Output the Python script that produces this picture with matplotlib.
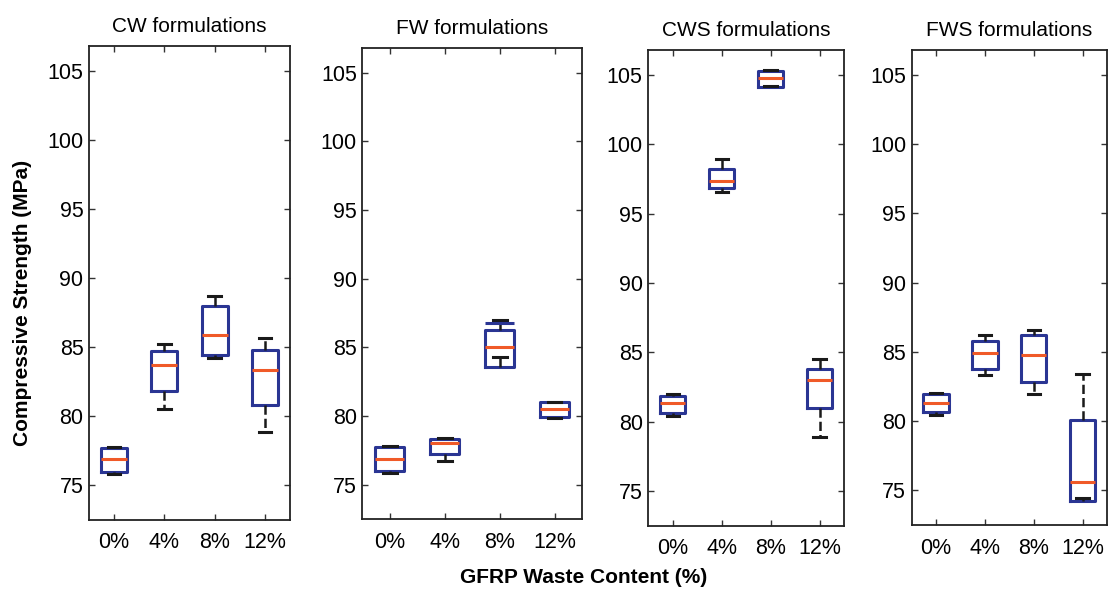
import matplotlib.pyplot as plt

plt.rcParams['font.family'] = ['Liberation Sans', 'DejaVu Sans']

groups = ['0%', '4%', '8%', '12%']
titles = ['CW formulations', 'FW formulations', 'CWS formulations', 'FWS formulations']

# box statistics, one row per waste content:
# lower whisker, q1, median, q3, upper whisker
cw = [[75.85, 75.97, 76.9, 77.7, 77.75],
      [80.5, 81.8, 83.7, 84.74, 85.2],
      [84.2, 84.43, 85.87, 88.0, 88.7],
      [78.85, 80.82, 83.35, 84.8, 85.7]]
fw = [[75.85, 75.97, 76.9, 77.72, 77.8],
      [76.7, 77.2, 78.0, 78.33, 78.4],
      [84.3, 83.6, 85.0, 86.3, 87.0],
      [79.85, 79.9, 80.5, 81.04, 81.05]]
cws = [[80.42, 80.63, 81.35, 81.86, 82.03],
       [96.53, 96.82, 97.33, 98.2, 98.93],
       [104.2, 104.16, 104.76, 105.29, 105.35],
       [78.86, 81.0, 83.04, 83.83, 84.5]]
fws = [[80.44, 80.68, 81.3, 81.93, 82.03],
       [83.3, 83.78, 84.9, 85.79, 86.2],
       [81.93, 82.8, 84.81, 86.2, 86.6],
       [74.45, 74.26, 75.63, 80.07, 83.4]]
panels = [cw, fw, cws, fws]

# stray box edge that shows above the FW 8% box
fw_extra_group = 2
fw_extra_top = 86.75

yticks = [75, 80, 85, 90, 95, 100, 105]

# axes rectangles in figure fractions (left, bottom, width, height)
rects = [[0.0803, 0.1261, 0.1814, 0.7966],
         [0.3270, 0.1277, 0.1983, 0.7916],
         [0.5851, 0.1165, 0.1766, 0.7995],
         [0.8228, 0.1176, 0.1763, 0.7983]]

blue = '#2a3593'
red = '#f05a28'
box_w = 0.52

fig = plt.figure(figsize=(11.08, 5.95), dpi=100)

for rect, title, rows in zip(rects, titles, panels):
    ax = fig.add_axes(rect)
    stats = []
    for lab, r in zip(groups, rows):
        stats.append({'label': lab, 'whislo': r[0], 'q1': r[1], 'med': r[2],
                      'q3': r[3], 'whishi': r[4], 'fliers': []})
    ax.bxp(stats, positions=range(1, 5), widths=box_w, capwidths=0.25,
           boxprops=dict(color=blue, linewidth=2.2),
           medianprops=dict(color=red, linewidth=2.2),
           whiskerprops=dict(color='#1a1a1a', linewidth=1.8, linestyle='--'),
           capprops=dict(color='#1a1a1a', linewidth=2.2),
           showfliers=False)
    if rows is fw:
        x0 = fw_extra_group + 1
        ax.hlines(fw_extra_top, x0 - box_w / 2, x0 + box_w / 2,
                  color=blue, linewidth=2.2)
    ax.set_xlim(0.5, 4.5)
    ax.set_ylim(72.5, 106.8)
    ax.set_yticks(yticks)
    ax.set_xticks(range(1, 5))
    ax.set_xticklabels(groups)
    ax.set_title(title, fontsize=15, pad=10)
    ax.tick_params(direction='in', top=True, right=True, length=4, width=1,
                   labelsize=15.5, color='#333333')
    ax.tick_params(axis='x', pad=9)
    ax.tick_params(axis='y', pad=4)
    for s in ax.spines.values():
        s.set_linewidth(1.3)
        s.set_color('#222222')

fig.text(0.0205, 0.491, 'Compressive Strength (MPa)', rotation=90,
         ha='center', va='center', fontsize=15, fontweight='bold')
fig.text(0.527, 0.0286, 'GFRP Waste Content (%)', ha='center', va='center',
         fontsize=15, fontweight='bold')

fig.savefig('out.png', dpi=100)
